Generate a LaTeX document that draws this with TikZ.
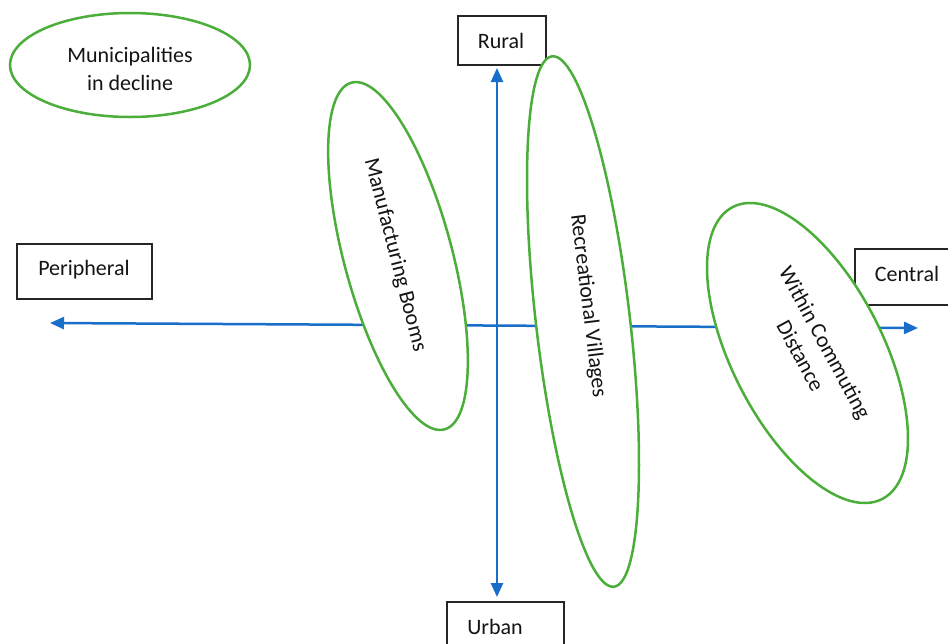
\documentclass[tikz,border=0pt]{standalone}
\usepackage{fontspec}
\setmainfont{Carlito}
\usetikzlibrary{shapes.geometric,arrows.meta}
\definecolor{ellgreen}{RGB}{76,174,58}
\definecolor{axisblue}{RGB}{24,110,200}
\definecolor{txt}{RGB}{20,20,20}
\tikzset{
  lbl/.style={font=\fontsize{22}{28}\selectfont, text=txt, inner sep=0pt, align=center},
  boxnode/.style={draw=black!85, line width=1.3pt, fill=white, rectangle, inner sep=0pt},
  ellnode/.style={draw=ellgreen, line width=2.5pt, fill=white, ellipse, inner sep=0pt},
  axis/.style={draw=axisblue, line width=2.5pt, {Triangle[length=14pt,width=12pt]}-{Triangle[length=14pt,width=12pt]}}
}
\begin{document}
\begin{tikzpicture}[x=1pt,y=-1pt]
\useasboundingbox (0,0) rectangle (948,643);
\clip (0,0) rectangle (948,643);
\fill[white] (0,0) rectangle (948,643);

% boxes
\node[boxnode, minimum width=88pt, minimum height=49pt] (ruralbox) at (502,40.5) {};
\node[lbl] (rural) at (501,41) {Rural};
\node[boxnode, minimum width=135pt, minimum height=55pt] (peribox) at (84.5,271.5) {};
\node[lbl] (peri) at (84,270) {Peripheral};
\node[boxnode, minimum width=117pt, minimum height=60pt] (urbanbox) at (505.5,632) {};
\node[lbl] (urban) at (495,627) {Urban};
\node[boxnode, minimum width=120pt, minimum height=56pt] (centralbox) at (915,277) {};
\node[lbl] (central) at (907,274) {Central};

% axes
\coordinate (hl) at (50,323);
\coordinate (hr) at (918,328);
\coordinate (vt) at (497,68);
\coordinate (vb) at (497,597);
\draw[axis] (hl) -- (hr);
\draw[axis] (vt) -- (vb);

% ellipses
\node[ellnode, minimum width=240pt, minimum height=104pt] (muniell) at (130,65) {};
\node[lbl] (muni) at (130,69) {Municipalities\\in decline};

\node[ellnode, rotate=-75, minimum width=359pt, minimum height=108pt] (manuell) at (398,256) {};
\node[lbl, rotate=-75.5] (manu) at (395,255) {Manufacturing Booms};

\node[ellnode, rotate=-83.35, minimum width=534pt, minimum height=94pt] (recell) at (583,321.5) {};
\node[lbl, rotate=-83] (rec) at (588,306) {Recreational Villages};

\node[ellnode, rotate=-62.9, minimum width=328pt, minimum height=151pt] (withinell) at (807.5,353) {};
\node[lbl, rotate=-61.5] (within) at (813,349) {Within Commuting\\Distance};
\end{tikzpicture}
\end{document}
